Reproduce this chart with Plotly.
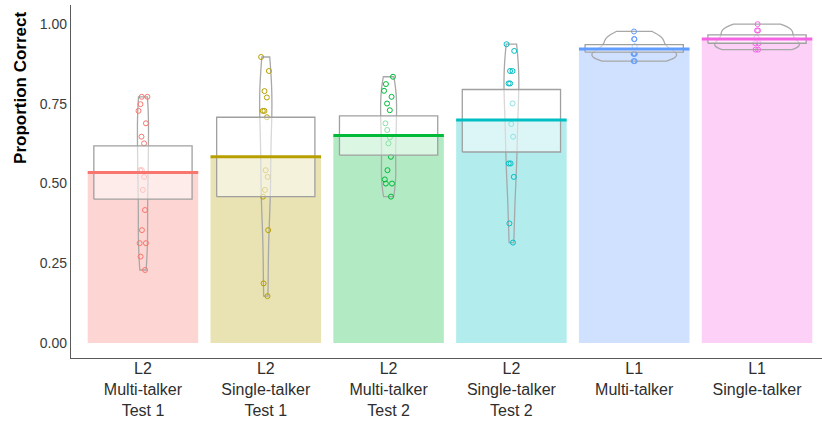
import numpy as np
import plotly.graph_objects as go

categories = ["L2<br>Multi-talker<br>Test 1", "L2<br>Single-talker<br>Test 1",
              "L2<br>Multi-talker<br>Test 2", "L2<br>Single-talker<br>Test 2",
              "L1<br>Multi-talker", "L1<br>Single-talker"]
colors = ["#F8766D", "#B79F00", "#00BA38", "#00BFC4", "#619CFF", "#F564E3"]

l2_mt1 = [0.772, 0.772, 0.749, 0.728, 0.689, 0.647, 0.626, 0.542, 0.542, 0.521,
          0.480, 0.417, 0.354, 0.313, 0.313, 0.271, 0.229]
l2_st1 = [0.897, 0.853, 0.790, 0.770, 0.728, 0.728, 0.708, 0.542, 0.521, 0.480,
          0.459, 0.354, 0.187, 0.147]
l2_mt2 = [0.835, 0.812, 0.791, 0.772, 0.751, 0.730, 0.689, 0.668, 0.645, 0.626,
          0.584, 0.542, 0.513, 0.500, 0.500, 0.459]
l2_st2 = [0.937, 0.916, 0.853, 0.853, 0.814, 0.814, 0.751, 0.687, 0.647, 0.563,
          0.563, 0.521, 0.375, 0.315]
l1_mt = [0.977, 0.953, 0.953, 0.930, 0.907, 0.907, 0.907, 0.884, 0.884]
l1_st = [1.000, 0.980, 0.980, 0.958, 0.940, 0.940, 0.920, 0.920]

means = [0.535, 0.584, 0.651, 0.699, 0.922, 0.953]
band_lo = [0.451, 0.459, 0.589, 0.599, 0.912, 0.940]
band_hi = [0.618, 0.708, 0.712, 0.795, 0.936, 0.966]

y_ticks = [0.0, 0.25, 0.5, 0.75, 1.0]
y_ticklabels = ["0.00", "0.25", "0.50", "0.75", "1.00"]

groups = [l2_mt1, l2_st1, l2_mt2, l2_st2, l1_mt, l1_st]

# style: full width of each bean (x-axis units)
bean_widths = [0.09, 0.10, 0.13, 0.12, 0.69, 0.69]
# style: horizontal jitter of the raw points
point_jitter = [0.9, 0.9, 0.9, 0.9, 0.15, 0.4]


def rgba(hexc, a):
    h = hexc.lstrip("#")
    r, g, b = int(h[0:2], 16), int(h[2:4], 16), int(h[4:6], 16)
    return f"rgba({r},{g},{b},{a})"


def nrd0(v):
    v = np.asarray(v, dtype=float)
    sd = v.std(ddof=1)
    q75, q25 = np.percentile(v, [75, 25])
    lo = min(sd, (q75 - q25) / 1.34)
    if lo <= 0:
        lo = sd
    return 0.9 * lo * len(v) ** (-0.2)


xs = list(range(len(categories)))
fig = go.Figure()

# bars
fig.add_trace(go.Bar(
    x=xs, y=means, width=0.9,
    marker=dict(color=[rgba(c, 0.3) for c in colors], line=dict(width=0)),
    hoverinfo="skip", showlegend=False))

# beans (violins)
for i, vals in enumerate(groups):
    fig.add_trace(go.Violin(
        x0=i, y=vals, width=bean_widths[i], scalegroup=f"bean{i}", scalemode="width",
        spanmode="hard", bandwidth=nrd0(vals), points=False,
        line=dict(color="#A8A8A8", width=1.3), fillcolor="rgba(0,0,0,0)",
        hoverinfo="skip", showlegend=False))

# inference bands
for i in xs:
    fig.add_trace(go.Scatter(
        x=[i - 0.4, i + 0.4, i + 0.4, i - 0.4, i - 0.4],
        y=[band_lo[i], band_lo[i], band_hi[i], band_hi[i], band_lo[i]],
        mode="lines", fill="toself", fillcolor="rgba(255,255,255,0.55)",
        line=dict(color="#A0A0A0", width=1.3), hoverinfo="skip", showlegend=False))

# mean lines
for i in xs:
    fig.add_trace(go.Scatter(
        x=[i - 0.45, i + 0.45], y=[means[i], means[i]], mode="lines",
        line=dict(color=colors[i], width=3), hoverinfo="skip", showlegend=False))

# raw points
for i, vals in enumerate(groups):
    fig.add_trace(go.Violin(
        x0=i, y=vals, width=0.09, scalegroup=f"pts{i}", spanmode="hard",
        points="all", pointpos=0, jitter=point_jitter[i],
        line=dict(width=0, color="rgba(0,0,0,0)"), fillcolor="rgba(0,0,0,0)",
        marker=dict(symbol="circle-open", size=5, color=colors[i],
                    line=dict(width=1, color=colors[i])),
        hoverinfo="y", showlegend=False))

fig.update_layout(
    width=822, height=421,
    margin=dict(l=71, r=0, t=5, b=63, autoexpand=False),
    paper_bgcolor="white", plot_bgcolor="white",
    violinmode="overlay", showlegend=False,
    font=dict(family="Liberation Sans, Arial, sans-serif", color="#2e2e2e"),
    xaxis=dict(type="linear", range=[-0.586, 5.529], tickvals=xs, ticktext=categories,
               automargin=False, ticklabelstandoff=-4,
               showline=True, linecolor="#5a5a5a", linewidth=1.3, showgrid=False,
               zeroline=False, ticks="", tickfont=dict(size=16, color="#2e2e2e")),
    yaxis=dict(range=[-0.047, 1.06], tickvals=y_ticks, ticktext=y_ticklabels,
               automargin=False,
               showline=True, linecolor="#5a5a5a", linewidth=1.3, showgrid=False,
               zeroline=False, ticks="", tickfont=dict(size=14, color="#3a3a3a")),
    annotations=[dict(text="<b>Proportion Correct</b>", textangle=-90,
                      xref="paper", yref="paper", x=-0.0666, y=0.986,
                      xanchor="center", yanchor="top", showarrow=False,
                      font=dict(size=17, color="black"))],
)

fig.write_html("out.html", config={"displayModeBar": False},
               post_script="document.body.style.margin='0';document.body.style.padding='0';")
